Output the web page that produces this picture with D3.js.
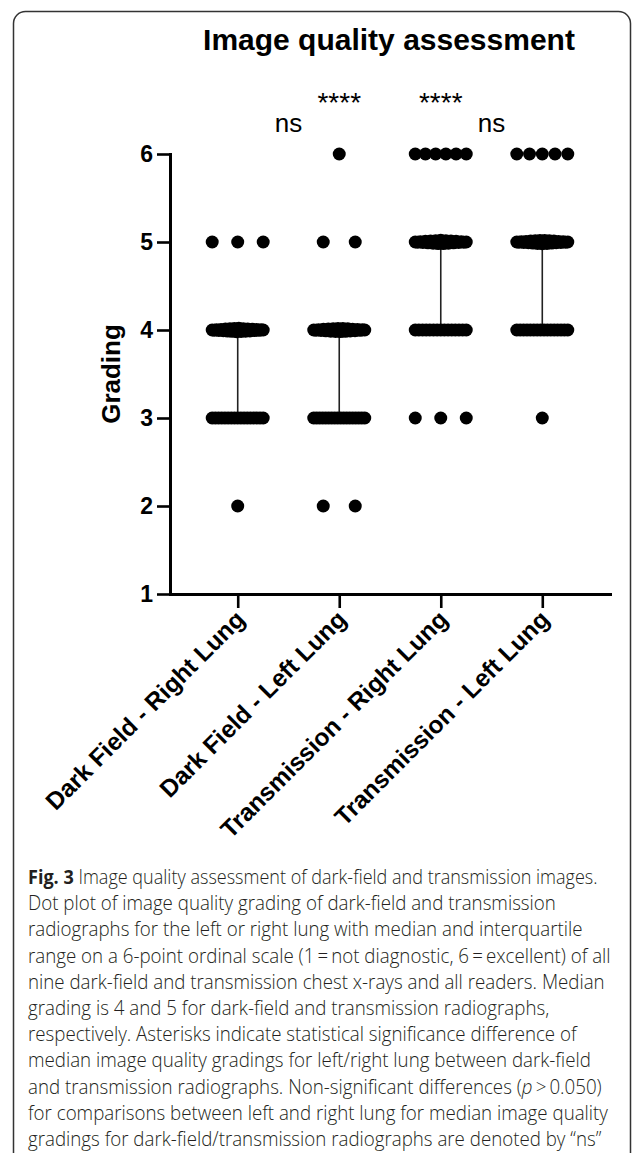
<!DOCTYPE html>
<html><head><meta charset="utf-8">
<script src="https://cdn.jsdelivr.net/npm/d3@7"></script>
<style>body{margin:0;background:#fff}svg{display:block}</style>
</head><body>
<svg id="c" width="634" height="1153"></svg>
<script>
// ---------------- data ----------------
const categories = ["Dark Field - Right Lung", "Dark Field - Left Lung", "Transmission - Right Lung", "Transmission - Left Lung"];
const grades = [1, 2, 3, 4, 5, 6];
// number of gradings at grade 1..6 for each category
const countsDarkRight  = [0, 1, 17, 24, 3, 0];
const countsDarkLeft   = [0, 2, 18, 22, 2, 1];
const countsTransRight = [0, 0, 3, 15, 21, 6];
const countsTransLeft  = [0, 0, 1, 16, 23, 5];
const yTicks = [1, 2, 3, 4, 5, 6];
const sigLabels = ["ns", "****", "****", "ns"];
const sigAnchor = [0.5, 1, 2, 2.5];          // position in category-index units
const sigKind = ["ns", "star", "star", "ns"];
const titleText = "Image quality assessment";
const yLabelText = "Grading";
const captionLines = [
  [["Fig. 3", "b"], [" Image quality assessment of dark-field and transmission images.", ""]],
  [["Dot plot of image quality grading of dark-field and transmission", ""]],
  [["radiographs for the left or right lung with median and interquartile", ""]],
  [["range on a 6-point ordinal scale (1\u2009=\u2009not diagnostic, 6\u2009=\u2009excellent) of all", ""]],
  [["nine dark-field and transmission chest x-rays and all readers. Median", ""]],
  [["grading is 4 and 5 for dark-field and transmission radiographs,", ""]],
  [["respectively. Asterisks indicate statistical significance difference of", ""]],
  [["median image quality gradings for left/right lung between dark-field", ""]],
  [["and transmission radiographs. Non-significant differences (", ""], ["p", "i"], ["\u2009>\u20090.050)", ""]],
  [["for comparisons between left and right lung for median image quality", ""]],
  [["gradings for dark-field/transmission radiographs are denoted by \u201cns\u201d", ""]]
];
const allCounts = [countsDarkRight, countsDarkLeft, countsTransRight, countsTransLeft];

// ---------------- drawing ----------------
const svg = d3.select("#c");
const FONT = "'Liberation Sans', Arial, Helvetica, sans-serif";

// frame
svg.append("rect").attr("x", 13.5).attr("y", 11.5).attr("width", 617).attr("height", 1200)
  .attr("rx", 12).attr("fill", "none").attr("stroke", "#333").attr("stroke-width", 1.5);

const x = d3.scalePoint().domain(categories).range([170, 610]).padding(0.667);
const y = d3.scaleLinear().domain([1, 6]).range([594, 154]);

// title
svg.append("text").attr("x", 389).attr("y", 50).attr("text-anchor", "middle")
  .attr("font-family", FONT).attr("font-weight", "bold").attr("font-size", 30)
  .attr("fill", "#000").text(titleText);

// y label
svg.append("text").attr("transform", `translate(120,${(y(1) + y(6)) / 2}) rotate(-90)`)
  .attr("text-anchor", "middle").attr("font-family", FONT).attr("font-weight", "bold")
  .attr("font-size", 26).text(yLabelText);

// error bars (median + IQR)
const stats = allCounts.map((cnt, ci) => {
  const vals = [];
  cnt.forEach((n, gi) => { for (let i = 0; i < n; i++) vals.push(grades[gi]); });
  vals.sort(d3.ascending);
  return { cat: categories[ci], q1: d3.quantile(vals, 0.25), med: d3.quantile(vals, 0.5), q3: d3.quantile(vals, 0.75) };
});
const eb = svg.append("g").attr("stroke", "#222").attr("stroke-width", 1.6);
stats.forEach(s => {
  const cx = x(s.cat);
  eb.append("line").attr("x1", cx).attr("x2", cx).attr("y1", y(s.q1)).attr("y2", y(s.q3));
  eb.append("line").attr("x1", cx - 24).attr("x2", cx + 24).attr("y1", y(s.med)).attr("y2", y(s.med)).attr("stroke-width", 2);
  [s.q1, s.q3].forEach(q => eb.append("line").attr("x1", cx - 14).attr("x2", cx + 14).attr("y1", y(q)).attr("y2", y(q)));
});

// dots
const dots = [];
allCounts.forEach((cnt, ci) => {
  cnt.forEach((n, gi) => {
    if (!n) return;
    const span = n > 1 ? Math.min(32 * (n - 1), 51) : 0;
    const stagger = n > 19;
    for (let i = 0; i < n; i++) {
      const t = n > 1 ? (i / (n - 1)) * 2 - 1 : 0;
      dots.push({ cat: categories[ci], g: grades[gi], dx: t * span / 2,
        dy: stagger ? (i % 2 ? 1 : -1) * 1.7 * (1 - Math.abs(t)) : 0 });
    }
  });
});
svg.append("g").selectAll("circle").data(dots).join("circle")
  .attr("cx", d => x(d.cat) + d.dx).attr("cy", d => y(d.g) + d.dy)
  .attr("r", 6.5).attr("fill", "#000");

// axes
const gy = svg.append("g").attr("transform", "translate(170,0)")
  .call(d3.axisLeft(y).tickValues(yTicks).tickFormat(d3.format("d")).tickSize(13).tickPadding(4).tickSizeOuter(0));
gy.select(".domain").attr("stroke-width", 3).attr("stroke-linecap", "square");
gy.selectAll(".tick line").attr("stroke-width", 2.6);
gy.selectAll(".tick text").attr("font-family", FONT).attr("font-weight", "bold").attr("font-size", 23).attr("fill", "#000");

const gx = svg.append("g").attr("transform", "translate(0,594)")
  .call(d3.axisBottom(x).tickSize(14).tickSizeOuter(0));
gx.select(".domain").attr("stroke-width", 3).attr("stroke-linecap", "square");
gx.selectAll(".tick line").attr("stroke-width", 2.6);
gx.selectAll(".tick text")
  .attr("font-family", FONT).attr("font-weight", "bold").attr("font-size", 24.5).attr("fill", "#000")
  .attr("text-anchor", "end").attr("y", 0).attr("dy", 0)
  .attr("transform", "translate(8,27) rotate(-45)");

// significance labels
const step = x.step();
sigLabels.forEach((lab, i) => {
  const ax = x(categories[0]) + sigAnchor[i] * step;
  const star = sigKind[i] === "star";
  svg.append("text").attr("x", ax).attr("y", star ? 112 : 132)
    .attr("text-anchor", "middle").attr("font-family", FONT)
    .attr("font-size", star ? 28 : 26).attr("fill", "#000").text(lab);
});

// caption
const cap = svg.append("g").attr("font-family", "'Open Sans', 'Noto Sans', sans-serif")
  .attr("font-size", 20).attr("font-weight", 300).attr("fill", "#231f20");
const capTexts = captionLines.map((parts, li) => {
  const t = cap.append("text").attr("x", 0).attr("y", 0);
  parts.forEach(([s, st]) => {
    const ts = t.append("tspan").text(s);
    if (st === "b") ts.attr("font-weight", "bold");
    if (st === "i") ts.attr("font-style", "italic");
  });
  return t;
});
const w4 = capTexts[3].node().getComputedTextLength();
const sx = 583 / w4;
const sx1 = 570 / capTexts[0].node().getComputedTextLength();
capTexts.forEach((t, li) => {
  t.attr("transform", `translate(28,${884 + li * 26.2}) scale(${li === 0 ? sx1 : sx},1)`);
});
</script>
</body></html>
